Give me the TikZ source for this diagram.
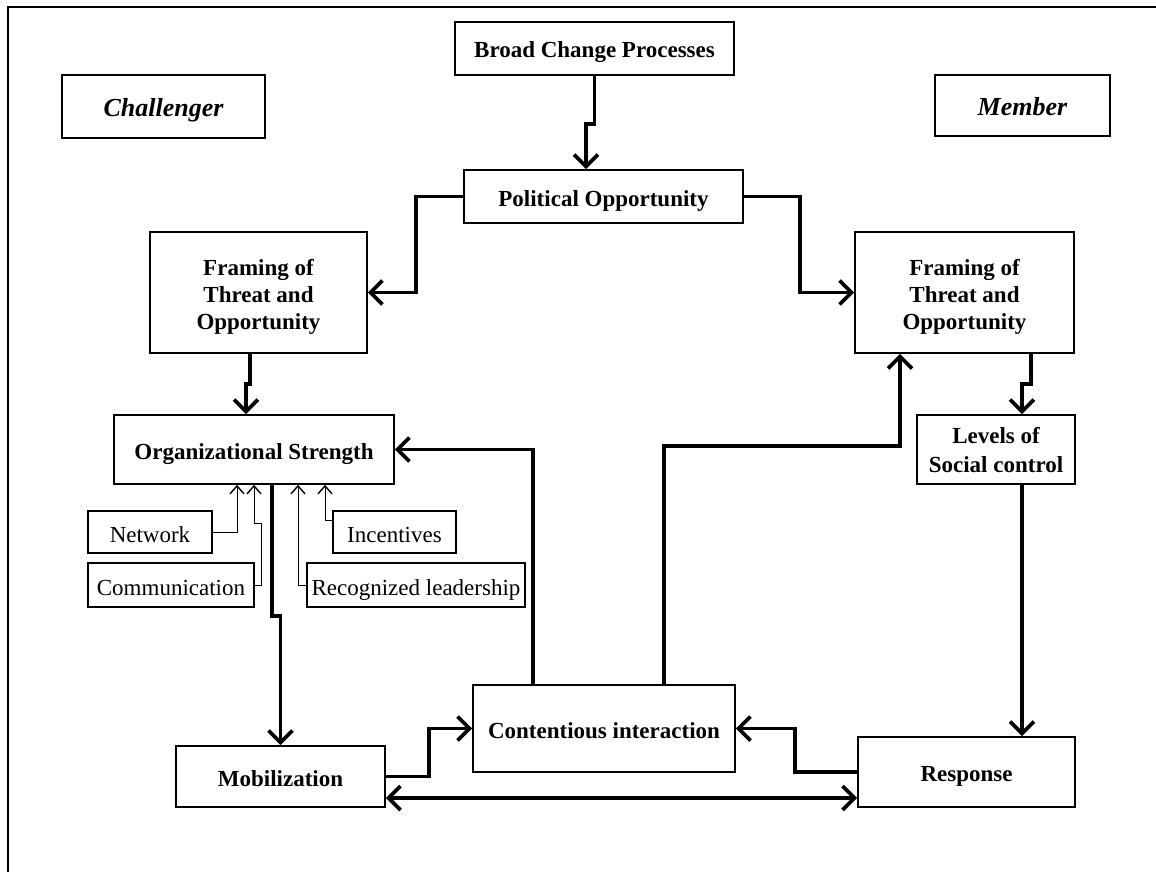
\documentclass[tikz,border=0pt]{standalone}
\usepackage{fontspec}
\setmainfont{Liberation Serif}
\usetikzlibrary{arrows.meta}

\begin{document}
\begin{tikzpicture}[x=1pt,y=-1pt,
  box/.style={rectangle,draw,line width=1.6pt,align=center,inner sep=0pt,text height=19pt,text depth=0pt,font=\fontsize{23}{27}\selectfont\bfseries},
  rolebox/.style={box,text height=20pt,font=\fontsize{26}{30}\selectfont\bfseries\itshape},
  smallbox/.style={rectangle,draw,line width=1.6pt,inner sep=0pt,text height=20pt,text depth=0pt,font=\fontsize{23}{28}\selectfont},
  conn/.style={line width=3.8pt,-{Straight Barb[length=12pt,width=24pt]}},
  conntwo/.style={line width=3.8pt,{Straight Barb[length=12pt,width=24pt]}-{Straight Barb[length=12pt,width=24pt]}},
  thinconn/.style={line width=1pt,-{Straight Barb[length=8pt,width=14pt,line width=1.4pt]}}]
\useasboundingbox (0,0) rectangle (1156,872);
% frame
\draw[line width=2pt] (1156,7) -- (8,7) -- (8,872);

% boxes
\node[box,minimum width=279pt,minimum height=53pt] (bcp) at (594.5,48.5) {Broad Change Processes};
\node[rolebox,minimum width=203pt,minimum height=63pt] (chal) at (163.5,106.5) {Challenger};
\node[rolebox,minimum width=175pt,minimum height=61pt] (memb) at (1022.5,105.5) {Member};
\node[box,minimum width=279pt,minimum height=53pt] (pol) at (603.5,196.5) {Political Opportunity};
\node[box,minimum width=217pt,minimum height=121pt,text height=73pt] (frl) at (258.5,292.5) {Framing of\\Threat and\\Opportunity};
\node[box,minimum width=219pt,minimum height=121pt,text height=73pt] (frr) at (964.5,292.5) {Framing of\\Threat and\\Opportunity};
\node[box,minimum width=280pt,minimum height=69pt] (org) at (254,449.5) {Organizational Strength};
\node[box,minimum width=158pt,minimum height=69pt,text height=45pt,font=\fontsize{23}{29}\selectfont\bfseries] (lev) at (996,449.5) {Levels of\\Social control};
\node[smallbox,minimum width=124pt,minimum height=42pt] (net) at (150,532) {Network};
\node[smallbox,minimum width=166pt,minimum height=44pt] (comm) at (171,585) {Communication};
\node[smallbox,minimum width=123pt,minimum height=42pt] (inc) at (394.5,532) {Incentives};
\node[smallbox,minimum width=218pt,minimum height=44pt] (rec) at (416,585) {Recognized leadership};
\node[box,minimum width=262pt,minimum height=87pt] (cont) at (604,728.5) {Contentious interaction};
\node[box,minimum width=209pt,minimum height=61pt] (mob) at (280.5,776.5) {Mobilization};
\node[box,minimum width=217pt,minimum height=70pt] (resp) at (966.5,772) {Response};

% thick connectors
\draw[conn] (bcp.south) -- ++(0,48) -| ([xshift=-17.5pt]pol.north);
\draw[conn] (pol.west) -- ++(-47,0) |- (frl.east);
\draw[conn] (pol.east) -- ++(56,0) |- (frr.west);
\draw[conn] ([xshift=-8.5pt]frl.south) -- ++(0,30) -| ([xshift=-8pt]org.north);
\draw[conn] ([xshift=18pt]org.south) -- ++(0,131) -| (mob.north);
\draw[conn] ([xshift=66.5pt]frr.south) -- ++(0,30) -| ([xshift=26pt]lev.north);
\draw[conn] ([xshift=26pt]lev.south) -- ([xshift=26pt]lev.south |- resp.north);
\draw[conn] ([xshift=-71pt]cont.north) |- (org.east);
\draw[conn] ([xshift=60pt]cont.north) -- ++(0,-238) -| ([xshift=-64.5pt]frr.south);
\draw[conn] (mob.east) -- ++(43,0) |- (cont.west);
\draw[conn] (resp.west) -- ++(-62,0) |- (cont.east);
\draw[conntwo] ([yshift=-21.5pt]mob.east) -- ([yshift=-21.5pt]mob.east -| resp.west);

% thin connectors
\draw[thinconn] (net.east) -| ([xshift=-17pt]org.south);
\draw[thinconn] (comm.east) -- ++(7,0) -- ++(0,-62) -| (org.south);
\draw[thinconn] (rec.west) -| ([xshift=44pt]org.south);
\draw[thinconn] ([yshift=12pt]inc.west) -| ([xshift=71pt]org.south);
\end{tikzpicture}
\end{document}
